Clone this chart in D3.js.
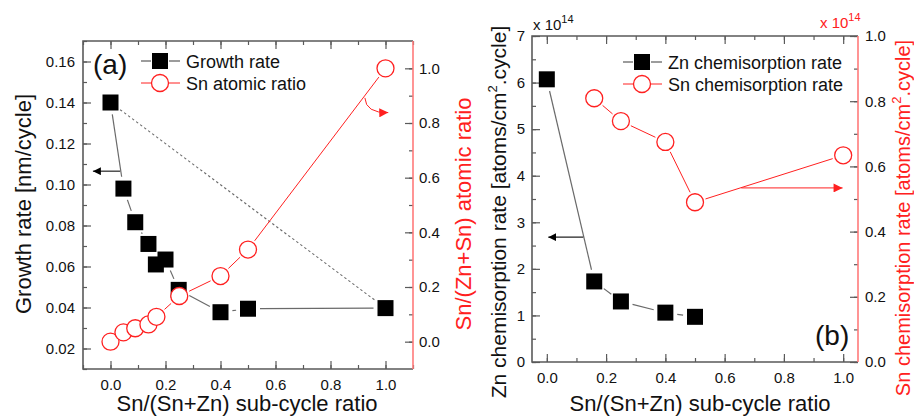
<!DOCTYPE html>
<html>
<head>
<meta charset="utf-8">
<script src="https://cdn.jsdelivr.net/npm/d3@7"></script>
<style>
  body { margin: 0; background: #fff; }
  text { font-family: "Liberation Sans", Arial, sans-serif; }
</style>
</head>
<body>
<script>
// panel (a)
var ratioA = [0, 0.047, 0.09, 0.138, 0.165, 0.2, 0.248, 0.4, 0.5, 1.0];
var growthRate = [0.140, 0.098, 0.0816, 0.071, 0.061, 0.0634, 0.0486, 0.0377, 0.0394, 0.0397];
var ratioSn = [0, 0.047, 0.09, 0.138, 0.167, 0.25, 0.4, 0.5, 1.0];
var snAtomic = [0.0, 0.034, 0.049, 0.063, 0.091, 0.167, 0.24, 0.337, 1.0];

// panel (b)
var ratioB = [0, 0.16, 0.25, 0.4, 0.5];
var znChem = [6.07, 1.73, 1.30, 1.06, 0.97];
var ratioBSn = [0.16, 0.25, 0.4, 0.5, 1.0];
var snChem = [0.809, 0.739, 0.675, 0.49, 0.634];

// ticks
var xTicks = [0, 0.2, 0.4, 0.6, 0.8, 1.0];
var growthTicks = [0.02, 0.04, 0.06, 0.08, 0.10, 0.12, 0.14, 0.16];
var atomicTicks = [0, 0.2, 0.4, 0.6, 0.8, 1.0];
var znTicks = [0, 1, 2, 3, 4, 5, 6, 7];
var snTicks = [0, 0.2, 0.4, 0.6, 0.8, 1.0];

var RED = '#ff2020';
var RED_AXIS = '#ff7a7a';
var GRAY = '#5a5a5a';

function zip(xs, ys) {
  return xs.map(function(x, i) { return { x: x, y: ys[i] }; });
}

var svg = d3.select('body').append('svg')
  .attr('width', 914)
  .attr('height', 416);

var defs = svg.append('defs');
function arrowMarker(id, color, w, h) {
  defs.append('marker')
    .attr('id', id)
    .attr('viewBox', '0 0 10 10')
    .attr('refX', 10).attr('refY', 5)
    .attr('markerUnits', 'userSpaceOnUse')
    .attr('markerWidth', w).attr('markerHeight', h)
    .attr('orient', 'auto')
    .append('path')
    .attr('d', 'M0,0 L10,5 L0,10 z')
    .attr('fill', color);
}
arrowMarker('headK', '#000', 8, 8);
arrowMarker('headR', RED, 10, 9);

// shortened segments so lines stop before the symbols
function segments(pts, gap) {
  var out = [];
  for (var i = 0; i < pts.length - 1; i++) {
    var a = pts[i], b = pts[i + 1];
    var dx = b[0] - a[0], dy = b[1] - a[1];
    var len = Math.sqrt(dx * dx + dy * dy);
    if (len <= 2 * gap + 1) continue;
    var ux = dx / len, uy = dy / len;
    out.push([a[0] + ux * gap, a[1] + uy * gap, b[0] - ux * gap, b[1] - uy * gap]);
  }
  return out;
}

function drawSegments(g, pts, gap, color, width, dash) {
  g.selectAll(null)
    .data(segments(pts, gap))
    .enter()
    .append('line')
    .attr('x1', function(s) { return s[0]; })
    .attr('y1', function(s) { return s[1]; })
    .attr('x2', function(s) { return s[2]; })
    .attr('y2', function(s) { return s[3]; })
    .attr('stroke', color)
    .attr('stroke-width', width)
    .attr('stroke-dasharray', dash || null);
}

function squares(g, pts) {
  g.selectAll(null)
    .data(pts)
    .enter()
    .append('rect')
    .attr('x', function(p) { return p[0] - 8; })
    .attr('y', function(p) { return p[1] - 8; })
    .attr('width', 16)
    .attr('height', 16)
    .attr('fill', '#000');
}

function circles(g, pts) {
  g.selectAll(null)
    .data(pts)
    .enter()
    .append('circle')
    .attr('cx', function(p) { return p[0]; })
    .attr('cy', function(p) { return p[1]; })
    .attr('r', 8.5)
    .attr('fill', '#fff')
    .attr('stroke', RED)
    .attr('stroke-width', 1.3);
}

function minor(domain, step) {
  var lo = Math.ceil(domain[0] / step - 1e-6), hi = Math.floor(domain[1] / step + 1e-6);
  return d3.range(lo, hi + 1).map(function(k) { return +(k * step).toFixed(4); });
}

function axes(g, x, yl, yr, o) {
  var w = x.range(), hl = yl.range();
  var fs = '15px';
  // minor ticks
  g.append('g').attr('transform', 'translate(0,' + hl[0] + ')')
    .call(d3.axisBottom(x).tickValues(minor(x.domain(), 0.1)).tickSize(-4).tickFormat(''));
  g.append('g').attr('transform', 'translate(0,' + hl[1] + ')')
    .call(d3.axisTop(x).tickValues(minor(x.domain(), 0.1)).tickSize(-4).tickFormat(''));
  g.append('g').attr('transform', 'translate(' + w[0] + ',0)')
    .call(d3.axisLeft(yl).tickValues(minor(yl.domain(), o.leftMinor)).tickSize(-4).tickFormat(''));
  g.append('g').attr('transform', 'translate(' + w[1] + ',0)').attr('class', 'red')
    .call(d3.axisRight(yr).tickValues(minor([Math.max(0, yr.domain()[0]), Math.min(1, yr.domain()[1])], 0.1)).tickSize(-4).tickFormat(''));
  // major ticks
  g.append('g').attr('transform', 'translate(0,' + hl[0] + ')')
    .call(d3.axisBottom(x).tickValues(xTicks).tickSize(-8).tickPadding(10).tickFormat(d3.format('.1f')));
  g.append('g').attr('transform', 'translate(0,' + hl[1] + ')')
    .call(d3.axisTop(x).tickValues(xTicks).tickSize(-8).tickFormat(''));
  g.append('g').attr('transform', 'translate(' + w[0] + ',0)')
    .call(d3.axisLeft(yl).tickValues(o.leftTicks).tickSize(-8).tickPadding(o.leftPad).tickFormat(o.leftFormat));
  g.append('g').attr('transform', 'translate(' + w[1] + ',0)').attr('class', 'red')
    .call(d3.axisRight(yr).tickValues(o.rightTicks).tickSize(-8).tickPadding(o.rightPad).tickFormat(d3.format('.1f')));

  g.selectAll('.domain').remove();
  g.selectAll('g').attr('color', GRAY);
  g.selectAll('g.red').attr('color', RED_AXIS);
  g.selectAll('g.red text').attr('fill', RED);
  g.selectAll('text').attr('font-size', fs).attr('font-family', '"Liberation Sans", Arial, sans-serif');
  g.selectAll('g:not(.red) text').attr('fill', '#111');
  g.selectAll('.tick line').attr('stroke-width', 1.2);

  // frame
  g.append('path')
    .attr('d', 'M' + w[1] + ',' + hl[0] + 'H' + w[0] + 'V' + hl[1] + 'H' + w[1])
    .attr('fill', 'none').attr('stroke', GRAY).attr('stroke-width', 1.6);
  g.append('line')
    .attr('x1', w[1]).attr('x2', w[1]).attr('y1', hl[0]).attr('y2', hl[1])
    .attr('stroke', RED_AXIS).attr('stroke-width', 1.6);
}

function legend(g, x, y, label1, label2) {
  g.append('line').attr('x1', x - 19).attr('x2', x - 9).attr('y1', y).attr('y2', y).attr('stroke', GRAY).attr('stroke-width', 1.2);
  g.append('line').attr('x1', x + 9).attr('x2', x + 20).attr('y1', y).attr('y2', y).attr('stroke', GRAY).attr('stroke-width', 1.2);
  squares(g, [[x, y]]);
  g.append('line').attr('x1', x - 19).attr('x2', x - 9).attr('y1', y + 22).attr('y2', y + 22).attr('stroke', RED).attr('stroke-width', 1);
  g.append('line').attr('x1', x + 9).attr('x2', x + 20).attr('y1', y + 22).attr('y2', y + 22).attr('stroke', RED).attr('stroke-width', 1);
  circles(g, [[x, y + 22]]);
  g.append('text').attr('x', x + 26).attr('y', y + 6.5).attr('font-size', '18px').attr('fill', '#111').text(label1);
  g.append('text').attr('x', x + 26).attr('y', y + 28.5).attr('font-size', '18px').attr('fill', '#111').text(label2);
}

function vTitle(g, x, y, color, parts) {
  var t = g.append('text')
    .attr('transform', 'translate(' + x + ',' + y + ') rotate(-90)')
    .attr('text-anchor', 'middle')
    .attr('font-size', '21px')
    .attr('fill', color);
  parts.forEach(function(p) {
    var s = t.append('tspan').text(p.t);
    if (p.sup) s.attr('font-size', '13px').attr('dy', '-9');
    if (p.down) s.attr('dy', '9');
  });
  return t;
}

// ---------- panel (a) ----------
var ga = svg.append('g');
var xA = d3.scaleLinear().domain([-0.1, 1.1]).range([83, 413]);
var yGrowth = d3.scaleLinear().domain([0.01, 0.17]).range([369, 41]);
var yAtomic = d3.scaleLinear().domain([-0.1, 1.1]).range([369, 41]);

axes(ga, xA, yGrowth, yAtomic, {
  leftTicks: growthTicks, leftMinor: 0.01, leftPad: 8, leftFormat: d3.format('.2f'),
  rightTicks: atomicTicks, rightPad: 6
});

var growthPts = zip(ratioA, growthRate).map(function(d) { return [xA(d.x), yGrowth(d.y)]; });
var atomicPts = zip(ratioSn, snAtomic).map(function(d) { return [xA(d.x), yAtomic(d.y)]; });

// dotted guide from first to last growth point
drawSegments(ga, [growthPts[0], growthPts[growthPts.length - 1]], 12, '#6a6a6a', 1.1, '2.5,2.5');
drawSegments(ga, growthPts, 12, '#6a6a6a', 1.2);
drawSegments(ga, atomicPts, 11, RED, 1);
squares(ga, growthPts);
circles(ga, atomicPts);

// arrows
ga.append('line')
  .attr('x1', xA(0.035)).attr('x2', xA(-0.064))
  .attr('y1', yGrowth(0.1065)).attr('y2', yGrowth(0.1065))
  .attr('stroke', '#222').attr('stroke-width', 1.2)
  .attr('marker-end', 'url(#headK)');
ga.append('path')
  .attr('d', 'M' + xA(0.925) + ',' + yAtomic(0.892) +
    ' Q' + xA(0.928) + ',' + yAtomic(0.836) + ' ' + xA(1.01) + ',' + yAtomic(0.838))
  .attr('fill', 'none').attr('stroke', RED).attr('stroke-width', 1)
  .attr('marker-end', 'url(#headR)');

ga.append('text').attr('x', 93).attr('y', 74).attr('font-size', '28px').attr('fill', '#111').text('(a)');
legend(ga, 160, 61, 'Growth rate', 'Sn atomic ratio');

vTitle(ga, 31, 204, '#111', [{ t: 'Growth rate [nm/cycle]' }]).attr('font-size', '22px');
vTitle(ga, 471, 214, RED, [{ t: 'Sn/(Zn+Sn) atomic ratio' }]).attr('font-size', '22px');
ga.append('text').attr('x', 247).attr('y', 411).attr('text-anchor', 'middle')
  .attr('font-size', '22px').attr('fill', '#111').text('Sn/(Sn+Zn) sub-cycle ratio');

// ---------- panel (b) ----------
var gb = svg.append('g');
var xB = d3.scaleLinear().domain([-0.05, 1.05]).range([532, 858]);
var yZn = d3.scaleLinear().domain([0, 7]).range([362, 36]);
var ySn = d3.scaleLinear().domain([0, 1]).range([362, 36]);

axes(gb, xB, yZn, ySn, {
  leftTicks: znTicks, leftMinor: 0.5, leftPad: 7, leftFormat: d3.format('d'),
  rightTicks: snTicks, rightPad: 7
});

var znPts = zip(ratioB, znChem).map(function(d) { return [xB(d.x), yZn(d.y)]; });
var snPts = zip(ratioBSn, snChem).map(function(d) { return [xB(d.x), ySn(d.y)]; });

drawSegments(gb, znPts, 12, '#6a6a6a', 1.2);
drawSegments(gb, snPts, 11, RED, 1);
squares(gb, znPts);
circles(gb, snPts);

gb.append('line')
  .attr('x1', xB(0.123)).attr('x2', xB(0.005))
  .attr('y1', yZn(2.68)).attr('y2', yZn(2.68))
  .attr('stroke', '#222').attr('stroke-width', 1.2)
  .attr('marker-end', 'url(#headK)');
gb.append('line')
  .attr('x1', xB(0.656)).attr('x2', xB(0.998))
  .attr('y1', ySn(0.534)).attr('y2', ySn(0.534))
  .attr('stroke', RED).attr('stroke-width', 1)
  .attr('marker-end', 'url(#headR)');

gb.append('text').attr('x', 815).attr('y', 345).attr('font-size', '28px').attr('fill', '#111').text('(b)');
legend(gb, 642, 62, 'Zn chemisorption rate', 'Sn chemisorption rate');

function scaleNote(g, x, y, color) {
  var t = g.append('text').attr('x', x).attr('y', y).attr('font-size', '15px').attr('fill', color);
  t.append('tspan').text('x 10');
  t.append('tspan').attr('font-size', '11px').attr('dy', '-7').text('14');
}
scaleNote(gb, 533, 30, '#111');
scaleNote(gb, 820, 28, RED);

vTitle(gb, 506, 212, '#111', [
  { t: 'Zn chemisorption rate [atoms/cm' }, { t: '2', sup: true }, { t: '.cycle]', down: true }
]);
vTitle(gb, 910, 218, RED, [
  { t: 'Sn chemisorption rate [atoms/cm' }, { t: '2', sup: true }, { t: '.cycle]', down: true }
]).attr('font-size', '20px');
gb.append('text').attr('x', 700).attr('y', 411).attr('text-anchor', 'middle')
  .attr('font-size', '22px').attr('fill', '#111').text('Sn/(Sn+Zn) sub-cycle ratio');
</script>
</body>
</html>
